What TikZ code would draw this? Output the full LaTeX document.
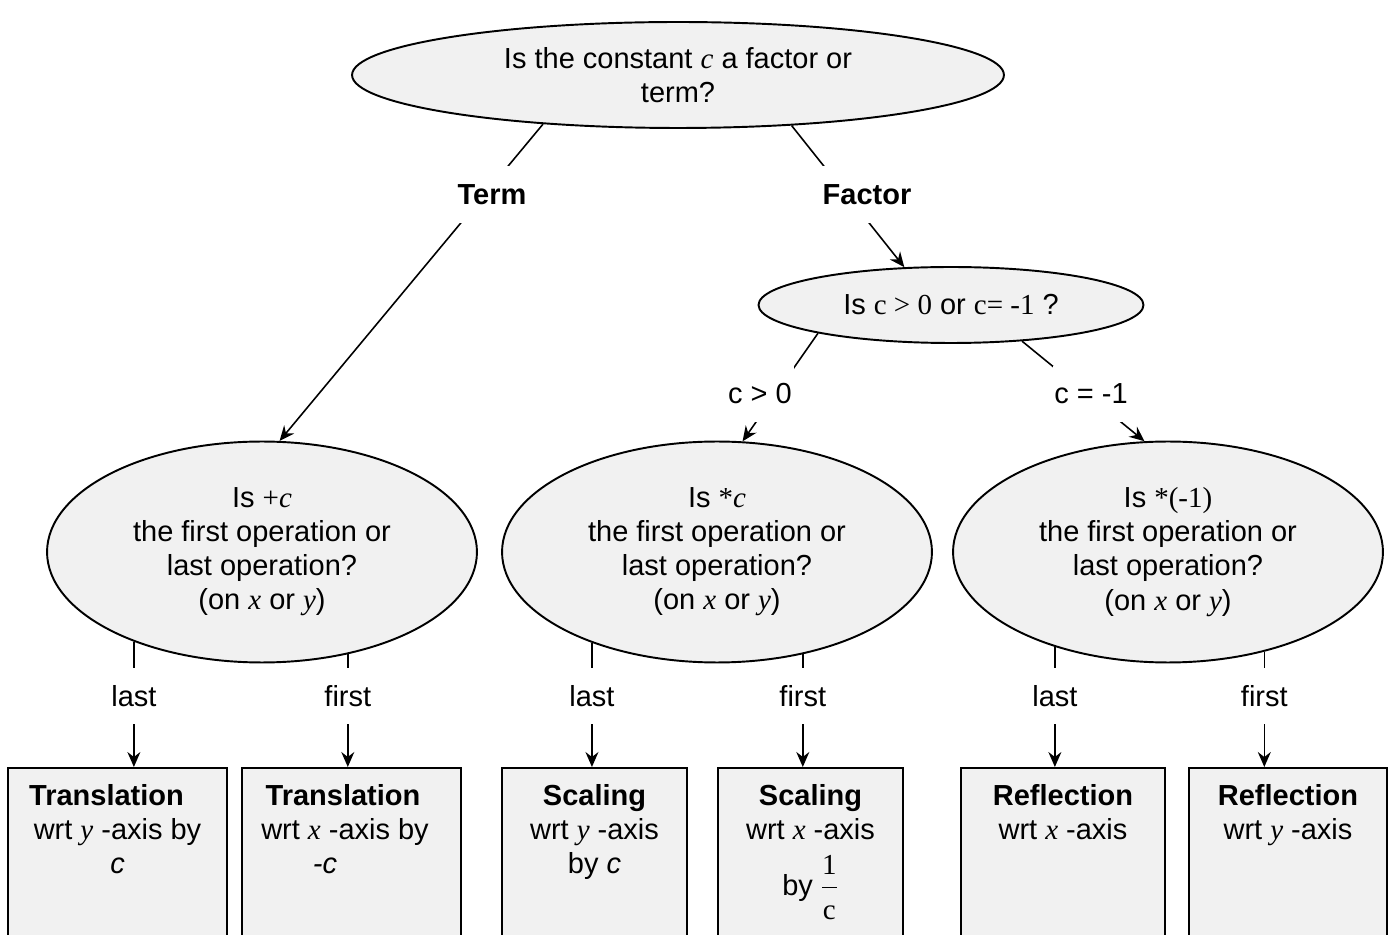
\documentclass[tikz,border=0pt]{standalone}
\usepackage{fontspec}
\setmainfont{Liberation Sans}
\newfontfamily\serif{Liberation Serif}
\usetikzlibrary{arrows.meta,shapes.geometric}
\definecolor{nodefill}{HTML}{F1F1F1}
\begin{document}
\begin{tikzpicture}[x=0.02cm,y=-0.02cm,
  every node/.style={font=\fontsize{16.5}{19.4}\selectfont},
  qell/.style={ellipse,draw,fill=nodefill,line width=1.1pt,inner sep=0pt,align=center},
  resbox/.style={rectangle,draw,fill=nodefill,line width=1.1pt,anchor=north,minimum height=4.2cm},
  restext/.style={anchor=north,align=center,inner sep=0pt},
  conn/.style={line width=0.9pt,-{Stealth[length=0.3cm,width=0.26cm,inset=0.1cm]}},
  lbl/.style={fill=white,inner sep=1pt,minimum height=1.14cm},
]
\useasboundingbox (0,0) rectangle (1394,935);
\begin{scope}
\clip (0,0) rectangle (1394,935);
% question ellipses
\node[qell,minimum width=13.04cm,minimum height=2.12cm] (top) at (678,75)
  {Is the constant {\serif\itshape c} a factor or\\term?};
\node[qell,minimum width=7.7cm,minimum height=1.52cm] (q2) at (951,305)
  {Is {\serif c > 0} or {\serif c= -1} ?};
\node[qell,minimum width=8.6cm,minimum height=4.42cm] (e1) at (262,552)
  {Is {\serif +\textit{c}}\\the first operation or\\last operation?\\(on {\serif\itshape x} or {\serif\itshape y})};
\node[qell,minimum width=8.6cm,minimum height=4.42cm] (e2) at (717,552)
  {Is {\serif *\textit{c}}\\the first operation or\\last operation?\\(on {\serif\itshape x} or {\serif\itshape y})};
\node[qell,minimum width=8.6cm,minimum height=4.42cm] (e3) at (1168,552)
  {Is {\serif *(-1)}\\the first operation or\\last operation?\\(on {\serif\itshape x} or {\serif\itshape y})};
% result boxes
\node[resbox,minimum width=4.38cm] (b1) at (117.5,767) {};
\node[resbox,minimum width=4.38cm] (b2) at (351.5,767) {};
\node[resbox,minimum width=3.7cm] (b3) at (594.5,767) {};
\node[resbox,minimum width=3.7cm] (b4) at (810.5,767) {};
\node[resbox,minimum width=4.08cm] (b5) at (1063,767) {};
\node[resbox,minimum width=3.96cm] (b6) at (1288,767) {};
\node[restext] (t1) at ([yshift=-0.34cm]b1.north)
  {\textbf{Translation}\kern0.44cm\\wrt {\serif\itshape y} -axis by\\\textit{c}};
\node[restext] (t2) at ([xshift=-0.13cm,yshift=-0.34cm]b2.north)
  {\textbf{Translation}\kern0.08cm\\wrt {\serif\itshape x} -axis by\\\textit{-c}\kern0.8cm};
\node[restext] (t3) at ([yshift=-0.34cm]b3.north)
  {\textbf{Scaling}\\wrt {\serif\itshape y} -axis\\by \textit{c}};
\node[restext] (t4) at ([yshift=-0.34cm]b4.north)
  {\textbf{Scaling}\\wrt {\serif\itshape x} -axis\\[8pt]by\kern4pt $\displaystyle\frac{\hbox{\serif 1}}{\raisebox{-2pt}{\serif c}}$};
\node[restext] (t5) at ([yshift=-0.34cm]b5.north)
  {\textbf{Reflection}\\wrt {\serif\itshape x} -axis};
\node[restext] (t6) at ([yshift=-0.34cm]b6.north)
  {\textbf{Reflection}\\wrt {\serif\itshape y} -axis};
% connectors
\draw[conn] (top.200) -- (e1.81);
\draw[conn] (top.336) -- (q2.141);
\draw[conn] (q2.192) -- (e2.77);
\draw[conn] (q2.333) -- (e3.102);
\draw[conn] (e1.215) -- (e1.215 |- b1.north);
\draw[conn] (e1.310) -- (e1.310 |- b2.north);
\draw[conn] (e2.216) -- (e2.216 |- b3.north);
\draw[conn] (e2.310) -- (e2.310 |- b4.north);
\draw[conn] (e3.220) -- (e3.220 |- b5.north);
\draw[conn] (e3.314) -- (e3.314 |- b6.north);
% labels
\node[lbl] (lterm) at (492,195) {\textbf{Term}};
\node[lbl] (lfactor) at (867,195) {\textbf{Factor}};
\node[lbl] (lpos) at (760,394) {c > 0};
\node[lbl] (lneg) at (1091,394) {c = -1};
\node[lbl] (l1) at (e1.215 |- 0,696) {last};
\node[lbl] (l2) at (e1.310 |- 0,696) {first};
\node[lbl] (l3) at (e2.216 |- 0,696) {last};
\node[lbl] (l4) at (e2.310 |- 0,696) {first};
\node[lbl] (l5) at (e3.220 |- 0,696) {last};
\node[lbl] (l6) at (e3.314 |- 0,696) {first};
\end{scope}
\end{tikzpicture}
\end{document}
